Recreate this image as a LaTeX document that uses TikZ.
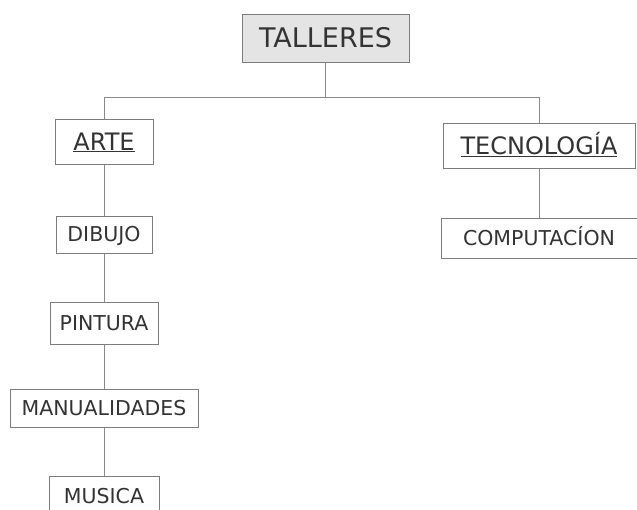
\documentclass[tikz,border=0pt]{standalone}
\usepackage{fontspec}
\setmainfont{DejaVu Sans}
\definecolor{txt}{HTML}{333333}
\definecolor{bord}{HTML}{7C7C7C}
\definecolor{lin}{HTML}{8A8A8A}
\definecolor{topfill}{HTML}{E4E4E4}
\begin{document}
\begin{tikzpicture}[x=1pt,y=-1pt,
  box/.style={draw=bord,line width=1pt,fill=white,text=txt,inner sep=0pt,
    text height=14.9pt,text depth=0pt,font=\fontsize{20.5}{24}\selectfont},
  topbox/.style={box,fill=topfill,text height=19.7pt,font=\fontsize{27}{30}\selectfont},
  midbox/.style={box,text height=17.5pt,font=\fontsize{24}{28}\selectfont},
  conn/.style={draw=lin,line width=1pt}]
\useasboundingbox (0,0) rectangle (637,509);
\node[topbox,minimum width=167pt,minimum height=48pt] (T) at (325.5,38) {TALLERES};
\node[midbox,minimum width=98pt,minimum height=45pt] (A) at (104,141.5) {\underline{ARTE}};
\node[midbox,minimum width=192pt,minimum height=45pt] (Tec) at (539,145.5) {\underline{TECNOLOGÍA}};
\node[box,minimum width=96pt,minimum height=37pt] (D) at (104,234.5) {DIBUJO};
\node[box,minimum width=196pt,minimum height=40pt] (C) at (539,238) {COMPUTACÍON};
\node[box,minimum width=108pt,minimum height=42pt] (P) at (104,323) {PINTURA};
\node[box,minimum width=188pt,minimum height=38pt] (M) at (104,408) {MANUALIDADES};
\node[box,minimum width=110pt,minimum height=40pt] (Mu) at (104,496) {MUSICA};
\coordinate (h) at (325.5,97);
\draw[conn] (T.south) -- (h);
\draw[conn] (h) -| (A.north);
\draw[conn] (h) -| (Tec.north);
\draw[conn] (A.south) -- (D.north);
\draw[conn] (D.south) -- (P.north);
\draw[conn] (P.south) -- (M.north);
\draw[conn] (M.south) -- (Mu.north);
\draw[conn] (Tec.south) -- (C.north);
\end{tikzpicture}
\end{document}
